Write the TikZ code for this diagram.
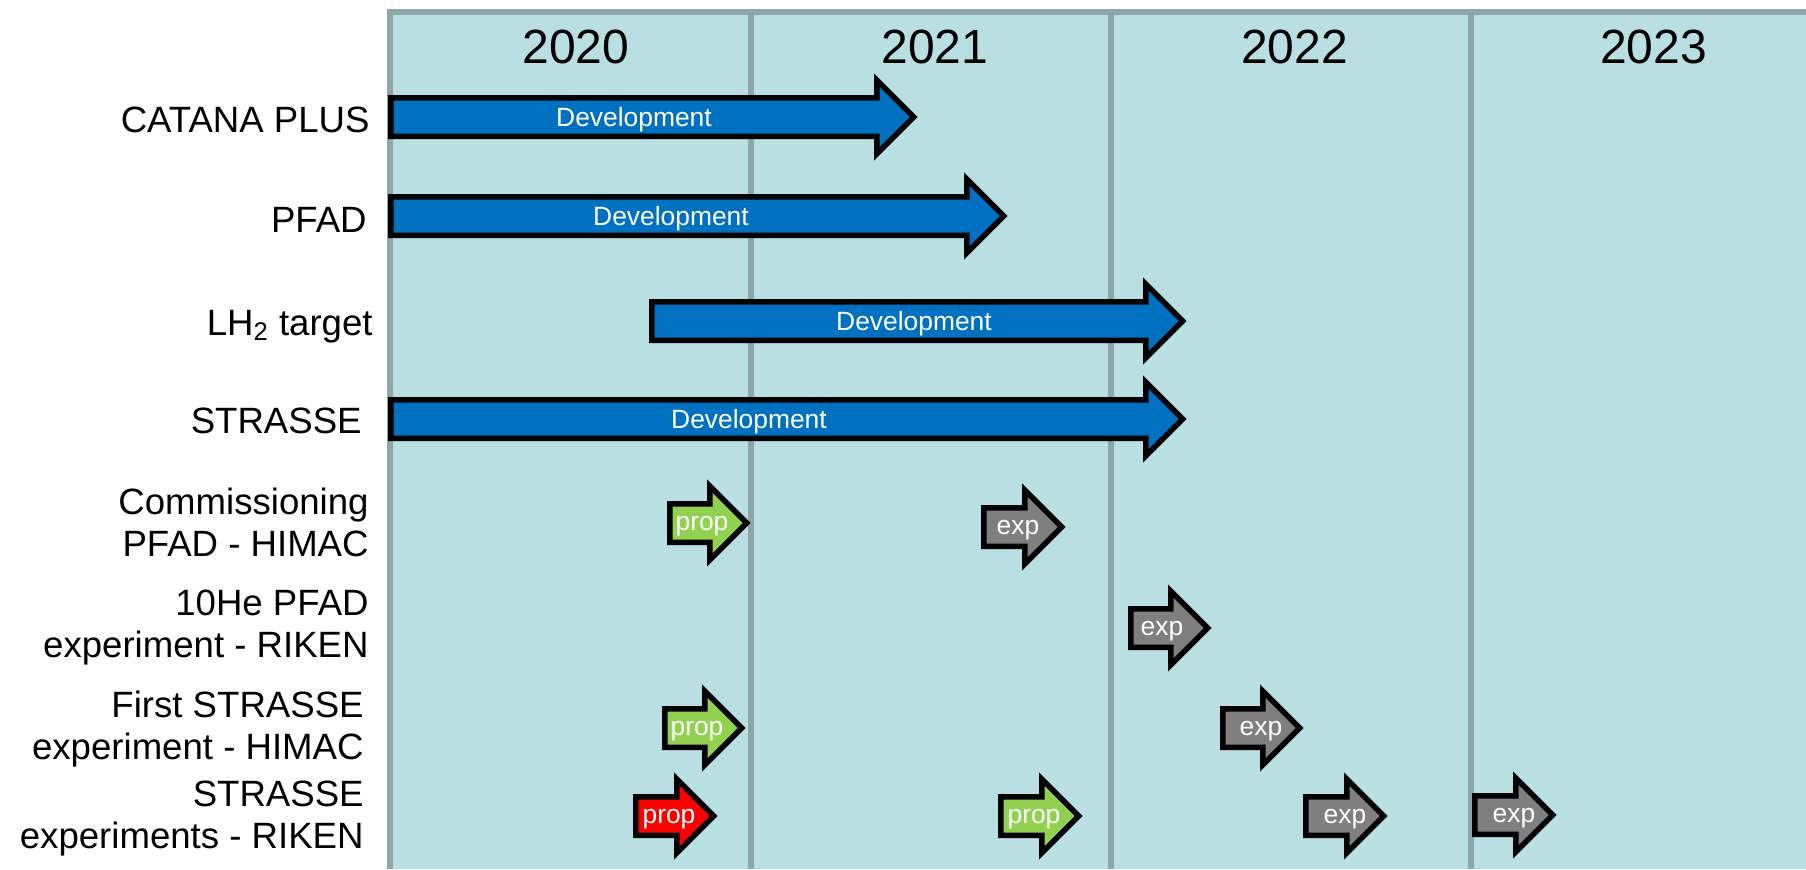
\documentclass[tikz,border=0pt]{standalone}
\usepackage{fontspec}
\setmainfont{Liberation Sans}
\definecolor{panelbg}{HTML}{BADFE3}
\definecolor{gridline}{HTML}{8CA6A9}
\definecolor{devblue}{HTML}{0070C0}
\definecolor{propgreen}{HTML}{92D050}
\definecolor{expgray}{HTML}{7F7F7F}
\definecolor{propred}{HTML}{FF0000}

% Block arrow: tail x, head-base x, centre y, fill colour (head length 37, head half-height 37, body half-height 19.25)
\newcommand\tlarrow[4]{%
  \draw[arrowline, fill=#4]
    (#1,#3-19.25) -- (#2,#3-19.25) -- (#2,#3-37) -- (#2+37,#3)
    -- (#2,#3+37) -- (#2,#3+19.25) -- (#1,#3+19.25) -- cycle;}

\begin{document}
\begin{tikzpicture}[x=0.5pt,y=-0.5pt,
  arrowline/.style={draw=black, line width=2.75pt, line join=miter},
  gridrule/.style={draw=gridline, line width=3pt},
  yearlabel/.style={anchor=base, inner sep=0pt, font=\fontsize{24pt}{28pt}\selectfont},
  rowlabel/.style={anchor=base east, align=right, inner sep=0pt, font=\fontsize{18.3pt}{21pt}\selectfont},
  barlabel/.style={anchor=base, inner sep=0pt, text=white, font=\fontsize{13.2pt}{15pt}\selectfont}]
\useasboundingbox (0,0) rectangle (1806,869);

% timeline panel and year columns
\fill[panelbg] (390,12) rectangle (1806,869);
\draw[gridrule] (387,12) -- (1806,12);
\foreach \gx in {390,750.5,1110.5,1470.5}
  \draw[gridrule] (\gx,9) -- (\gx,869);

\node[yearlabel] (y2020) at (576,63) {2020};
\node[yearlabel] (y2021) at (935,63) {2021};
\node[yearlabel] (y2022) at (1294.5,63) {2022};
\node[yearlabel] (y2023) at (1653.5,63) {2023};

% row titles (two-line titles are placed by the baseline of their last line)
\node[rowlabel] (rcatana) at (370,132) {CATANA PLUS};
\node[rowlabel] (rpfad) at (367,232) {PFAD};
\node[rowlabel] (rlh) at (373,335) {LH\textsubscript{2} target};
\node[rowlabel] (rstrasse) at (362,433) {STRASSE};
\node[rowlabel] (rcomm) at (369,556) {Commissioning\\PFAD - HIMAC};
\node[rowlabel] (rhe) at (369,657) {10He PFAD\\experiment - RIKEN};
\node[rowlabel] (rfirst) at (364,759) {First STRASSE\\experiment - HIMAC};
\node[rowlabel] (rriken) at (364,848) {STRASSE\\experiments - RIKEN};

% development periods
\tlarrow{390.75}{876.75}{117}{devblue}
\tlarrow{390.75}{966.75}{216}{devblue}
\tlarrow{651.75}{1145.75}{321}{devblue}
\tlarrow{390.75}{1145.75}{419}{devblue}
\node[barlabel] (dcatana) at (634,126) {Development};
\node[barlabel] (dpfad) at (671,225) {Development};
\node[barlabel] (dlh) at (914,330) {Development};
\node[barlabel] (dstrasse) at (749,428) {Development};

% proposals and experiments
\tlarrow{669.75}{709.75}{523}{propgreen}
\tlarrow{983.75}{1024.75}{527}{expgray}
\tlarrow{1130.75}{1170.75}{628}{expgray}
\tlarrow{664.75}{704.75}{728}{propgreen}
\tlarrow{1222.75}{1262.75}{728}{expgray}
\tlarrow{635.75}{676.75}{816}{propred}
\tlarrow{1000.75}{1041.75}{816}{propgreen}
\tlarrow{1305.75}{1346.75}{816}{expgray}
\tlarrow{1474.75}{1515.75}{815}{expgray}

\node[barlabel] (pcomm) at (702,530) {prop};
\node[barlabel] (ecomm) at (1018,534) {exp};
\node[barlabel] (ehe) at (1162,635) {exp};
\node[barlabel] (pfirst) at (697,735) {prop};
\node[barlabel] (efirst) at (1261,735) {exp};
\node[barlabel] (priken) at (669,823) {prop};
\node[barlabel] (priken2) at (1034,823) {prop};
\node[barlabel] (eriken) at (1345,823) {exp};
\node[barlabel] (eriken2) at (1514,822) {exp};
\end{tikzpicture}
\end{document}
